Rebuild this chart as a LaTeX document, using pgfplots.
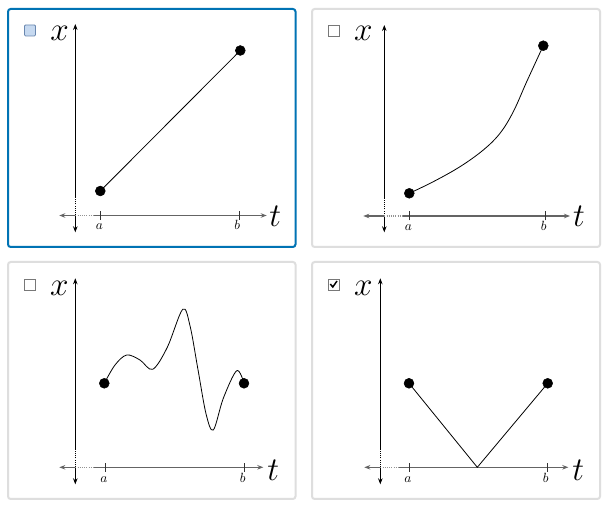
\documentclass[border=0pt]{standalone}
\usepackage{pgfplots}
\pgfplotsset{compat=1.18}
\usetikzlibrary{arrows.meta}
\definecolor{selblue}{RGB}{0,115,180}
\definecolor{panelgray}{RGB}{222,222,222}
\definecolor{axgray}{RGB}{100,100,100}
\definecolor{cbfill}{RGB}{198,217,240}
\definecolor{cbborder}{RGB}{105,135,175}
\definecolor{cbgray}{RGB}{120,120,120}
\pgfplotsset{panel/.style={hide axis, x=0.75pt, y=0.75pt, xmin=-25, xmax=205, ymin=-20, ymax=195,
  anchor=south west, clip=false, scale only axis}}
\tikzset{arr/.style={-{Stealth[length=4.5pt,width=3.4pt]}}}
% #1 top, #2 bottom, #3 left, #4 right, #5 a, #6 b
\newcommand{\drawaxes}[6]{%
  \draw[black, line width=0.6pt, arr] (axis cs:0,18) -- (axis cs:0,#1);
  \draw[black, line width=0.6pt, dash pattern=on 0.75pt off 0.9pt] (axis cs:0,0) -- (axis cs:0,18);
  \draw[black, line width=0.6pt, arr] (axis cs:0,0) -- (axis cs:0,#2);
  \draw[axgray, line width=1.1pt, arr] (axis cs:0,0) -- (axis cs:#3,0);
  \draw[axgray!70, line width=1.1pt, dash pattern=on 0.75pt off 0.9pt] (axis cs:0,0) -- (axis cs:19,0);
  \draw[axgray, line width=1.1pt, arr] (axis cs:19,0) -- (axis cs:#4,0);
  \draw[black!80, line width=0.6pt] (axis cs:#5,-4.5) -- (axis cs:#5,4.5);
  \draw[black!80, line width=0.6pt] (axis cs:#6,-4.5) -- (axis cs:#6,4.5);
}
\newcommand{\biglab}{\fontsize{24.88}{26}\selectfont}
\newcommand{\smlab}{\fontsize{10}{12}\selectfont}
\begin{document}
\begin{tikzpicture}[x=0.75pt,y=0.75pt]
\fill[white] (0,0) rectangle (610,510);
% panel frames
\draw[selblue, line width=1.5pt, rounded corners=2pt] (8,501) rectangle (295.5,263);
\draw[panelgray, line width=1.5pt, rounded corners=2pt] (312,501) rectangle (600,263);
\draw[panelgray, line width=1.5pt, rounded corners=2pt] (8,248) rectangle (295.5,11);
\draw[panelgray, line width=1.5pt, rounded corners=2pt] (312,248) rectangle (600,11);
% checkboxes
\draw[cbborder, fill=cbfill, line width=0.6pt, rounded corners=0.8pt] (24.5,485) rectangle (35.5,474);
\draw[cbgray, fill=white, line width=0.6pt] (328,484.5) rectangle (339,473.5);
\draw[cbgray, fill=white, line width=0.6pt] (24.5,231) rectangle (35.5,220);
\draw[cbgray, fill=white, line width=0.6pt] (328,231) rectangle (339,220);
\draw[black, line width=1.1pt] (330.3,226) -- (332.8,223) -- (337,229);

% Panel 1
\begin{axis}[panel, at={(50.3,274.5)}]
\drawaxes{191.5}{-16.8}{-16}{191.4}{25.5}{164}
\addplot[black, line width=0.6pt] coordinates {(25,24.5) (165,165)};
\addplot[only marks, mark=*, mark size=3.7pt, black] coordinates {(25,24.5) (165,165)};
\node[font=\biglab, inner sep=0] at (axis cs:-15.8,181.8) {$x$};
\node[font=\biglab, inner sep=0] at (axis cs:200,-1) {$t$};
\node[font=\smlab, inner sep=0, anchor=base] at (axis cs:24,-14.3) {$a$};
\node[font=\smlab, inner sep=0, anchor=base] at (axis cs:162,-14.3) {$b$};
\end{axis}

% Panel 2
\begin{axis}[panel, at={(359.3,274)}]
\drawaxes{191}{-16.3}{-21}{185.7}{25}{161.4}
\addplot[black, line width=0.6pt, smooth, tension=0.6] coordinates {(25,22.7) (49,34.3) (75.7,49.3) (99,66) (115.7,82.7) (129,104.3) (142.4,134.3) (159,170.3)};
\addplot[only marks, mark=*, mark size=3.7pt, black] coordinates {(25,22.7) (159,170.3)};
\node[font=\biglab, inner sep=0] at (axis cs:-21,182.3) {$x$};
\node[font=\biglab, inner sep=0] at (axis cs:194.7,-0.5) {$t$};
\node[font=\smlab, inner sep=0, anchor=base] at (axis cs:24,-14.3) {$a$};
\node[font=\smlab, inner sep=0, anchor=base] at (axis cs:159.5,-14.3) {$b$};
\end{axis}

% Panel 3
\begin{axis}[panel, at={(50.3,22.7)}]
\drawaxes{189}{-17}{-16}{188}{30}{169}
\addplot[black, line width=0.6pt, smooth, tension=0.55] coordinates {(29,84) (39.7,102.3) (51.4,112.3) (64.7,107.3) (77.4,98) (92,120) (107.4,158) (114.7,141.6) (122.7,97.6) (130.7,53.6) (138,37.3) (148,69) (161.4,96.6) (168.7,84)};
\addplot[only marks, mark=*, mark size=3.7pt, black] coordinates {(29,84) (168.7,84)};
\node[font=\biglab, inner sep=0] at (axis cs:-16,179) {$x$};
\node[font=\biglab, inner sep=0] at (axis cs:198,-2.5) {$t$};
\node[font=\smlab, inner sep=0, anchor=base] at (axis cs:28.5,-15.5) {$a$};
\node[font=\smlab, inner sep=0, anchor=base] at (axis cs:167.5,-15.5) {$b$};
\end{axis}

% Panel 4
\begin{axis}[panel, at={(355.3,22.7)}]
\drawaxes{189}{-17}{-16}{188}{28.7}{166.7}
\addplot[black, line width=0.6pt] coordinates {(28.7,84) (97,0) (167.4,84)};
\addplot[only marks, mark=*, mark size=3.7pt, black] coordinates {(28.7,84) (167.4,84)};
\node[font=\biglab, inner sep=0] at (axis cs:-17,179) {$x$};
\node[font=\biglab, inner sep=0] at (axis cs:198,-2.5) {$t$};
\node[font=\smlab, inner sep=0, anchor=base] at (axis cs:27.5,-15.5) {$a$};
\node[font=\smlab, inner sep=0, anchor=base] at (axis cs:165.5,-15.5) {$b$};
\end{axis}
\end{tikzpicture}
\end{document}
